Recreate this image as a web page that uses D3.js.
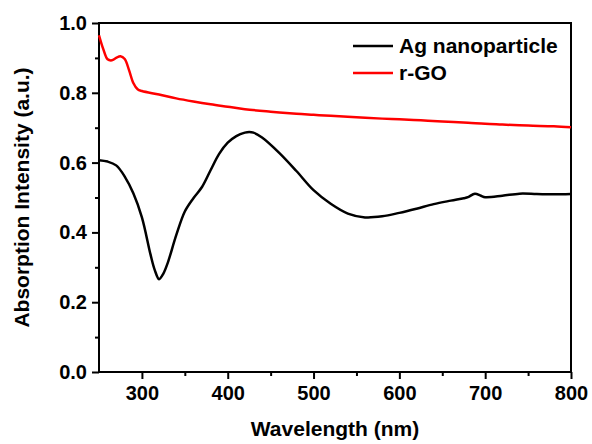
<!DOCTYPE html>
<html>
<head>
<meta charset="utf-8">
<script src="https://cdn.jsdelivr.net/npm/d3@7"></script>
<style>
  body { margin: 0; background: #fff; }
  text { font-family: "Liberation Sans", Arial, sans-serif; font-weight: bold; fill: #000; }
</style>
</head>
<body>
<div id="containerChart"></div>
<script>
// values
var agWavelength = [250, 260, 270, 280, 290, 300, 310, 315, 320, 325, 330, 340, 350, 360, 370, 380, 390, 400, 410, 420, 425, 430, 440, 460, 480, 500, 520, 540, 560, 580, 600, 620, 640, 660, 675, 680, 688, 695, 700, 720, 740, 760, 780, 800];
var agAbsorption = [0.607, 0.603, 0.592, 0.560, 0.512, 0.443, 0.337, 0.292, 0.266, 0.282, 0.312, 0.392, 0.460, 0.498, 0.530, 0.578, 0.625, 0.657, 0.676, 0.686, 0.688, 0.686, 0.672, 0.628, 0.576, 0.521, 0.482, 0.454, 0.443, 0.446, 0.456, 0.468, 0.481, 0.491, 0.498, 0.501, 0.511, 0.505, 0.501, 0.505, 0.511, 0.510, 0.509, 0.510];

var rgoWavelength = [250, 255, 260, 265, 270, 275, 280, 285, 290, 295, 300, 320, 340, 360, 380, 400, 420, 450, 480, 500, 520, 550, 580, 600, 625, 650, 680, 700, 720, 750, 780, 800];
var rgoAbsorption = [0.965, 0.925, 0.896, 0.893, 0.900, 0.905, 0.897, 0.865, 0.828, 0.810, 0.805, 0.795, 0.784, 0.775, 0.767, 0.760, 0.753, 0.746, 0.740, 0.737, 0.734, 0.730, 0.726, 0.724, 0.721, 0.718, 0.714, 0.711, 0.709, 0.706, 0.704, 0.701];

var xTicks = [300, 400, 500, 600, 700, 800];
var xMinor = [350, 450, 550, 650, 750];
var yTicks = [0.0, 0.2, 0.4, 0.6, 0.8, 1.0];
var yMinor = [0.1, 0.3, 0.5, 0.7, 0.9];

var seriesNames = ["Ag nanoparticle", "r-GO"];
var seriesColors = ["#000000", "#ff0000"];

var width = 592;
var height = 444;
var margin = {top: 23, right: 21, bottom: 72, left: 99};
var w = width - margin.left - margin.right;
var h = height - margin.top - margin.bottom;

var svg = d3.select("#containerChart").append("svg")
    .attr("id", "chart")
    .attr("width", width)
    .attr("height", height);

var g = svg.append("g").attr("transform", "translate(" + margin.left + "," + margin.top + ")");

var x = d3.scaleLinear().domain([250, 800]).range([0, w]);
var y = d3.scaleLinear().domain([0, 1]).range([h, 0]);

// minor ticks first, then the major axes on top
g.append("g").attr("transform", "translate(0," + h + ")")
    .call(d3.axisBottom(x).tickValues(xMinor).tickSize(4).tickFormat(""));
g.append("g")
    .call(d3.axisLeft(y).tickValues(yMinor).tickSize(4).tickFormat(""));

var xAxis = g.append("g").attr("transform", "translate(0," + h + ")")
    .call(d3.axisBottom(x).tickValues(xTicks).tickSize(7).tickSizeOuter(0).tickPadding(7).tickFormat(d3.format("d")));
var yAxis = g.append("g")
    .call(d3.axisLeft(y).tickValues(yTicks).tickSize(7).tickSizeOuter(0).tickPadding(5).tickFormat(d3.format(".1f")));

svg.selectAll(".domain").remove();
svg.selectAll(".tick line").attr("stroke", "#000").attr("stroke-width", 2);
svg.selectAll(".tick text").style("font-size", "20px").attr("fill", "#000");

// frame
g.append("rect")
    .attr("x", 0).attr("y", 0)
    .attr("width", w).attr("height", h)
    .attr("fill", "none")
    .attr("stroke", "#000")
    .attr("stroke-width", 2);

var line = d3.line()
    .x(function(d) { return x(d[0]); })
    .y(function(d) { return y(d[1]); })
    .curve(d3.curveCatmullRom.alpha(0.5));

var agData = d3.zip(agWavelength, agAbsorption);
var rgoData = d3.zip(rgoWavelength, rgoAbsorption);

g.append("path").datum(agData)
    .attr("d", line)
    .attr("fill", "none")
    .attr("stroke", seriesColors[0])
    .attr("stroke-width", 2.5);
g.append("path").datum(rgoData)
    .attr("d", line)
    .attr("fill", "none")
    .attr("stroke", seriesColors[1])
    .attr("stroke-width", 2.5);

// legend
var legend = svg.append("g").attr("transform", "translate(353,46)");
seriesNames.forEach(function(name, i) {
  legend.append("line")
      .attr("x1", 0).attr("x2", 40)
      .attr("y1", i * 27).attr("y2", i * 27)
      .attr("stroke", seriesColors[i])
      .attr("stroke-width", 2.5);
  legend.append("text")
      .attr("x", 46).attr("y", i * 27)
      .attr("dy", "0.35em")
      .style("font-size", "21px")
      .text(name);
});

// axis titles
svg.append("text")
    .attr("x", margin.left + w / 2)
    .attr("y", 436)
    .attr("text-anchor", "middle")
    .style("font-size", "21px")
    .text("Wavelength (nm)");
svg.append("text")
    .attr("transform", "translate(29," + (margin.top + h / 2) + ") rotate(-90)")
    .attr("text-anchor", "middle")
    .style("font-size", "21px")
    .text("Absorption Intensity (a.u.)");
</script>
</body>
</html>
